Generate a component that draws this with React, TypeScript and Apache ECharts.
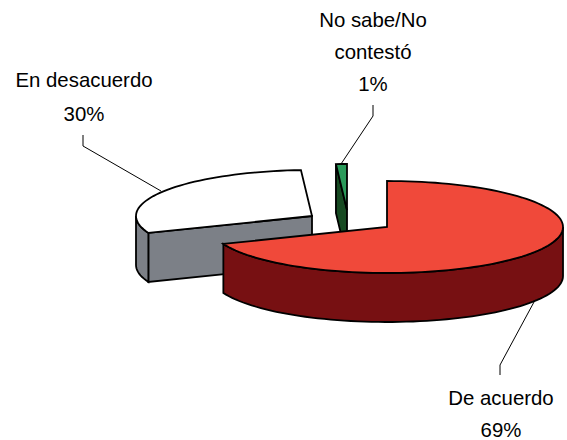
import React, { useEffect, useRef } from "react";
import * as echarts from "echarts";

// Data, clockwise from 12 o'clock
const categories = ["De acuerdo", "En desacuerdo", "No sabe/No contestó"];
const values = [69, 30, 1];
const labelLines = [["De acuerdo"], ["En desacuerdo"], ["No sabe/No", "contestó"]];

// Layout and style
const centers = [[387, 227], [312, 216], [347, 210]];
const RX = 176, RY = 46, DEPTH = 49;
const topColors = ["#F0493A", "#FFFFFF", "#2A9A5A"];
const sideColors = ["#771012", "#7C8087", "#174A22"];
const drawOrder = [3, 1, 2];
const labelX = [501, 84, 373];
const labelFirstBaseline = [405, 87, 27];
const LINE_GAP = [32, 34, 32];
const leaders = [
  [[500, 375], [500, 365], [534, 302]],
  [[83, 135], [83, 146], [161, 191]],
  [[373, 105], [373, 116], [341, 164]],
];
const FONT = "'Liberation Sans', Arial, sans-serif";

const total = values.reduce((a, b) => a + b, 0);
const startAngle = (i: number) => (values.slice(0, i).reduce((a, b) => a + b, 0) / total) * Math.PI * 2;

function arc(c: number[], a0: number, a1: number, dy = 0) {
  const n = Math.max(2, Math.ceil(Math.abs(a1 - a0) / 0.04));
  const pts: number[][] = [];
  for (let k = 0; k <= n; k++) {
    const a = a0 + ((a1 - a0) * k) / n;
    pts.push([c[0] + RX * Math.sin(a), c[1] - RY * Math.cos(a) + dy]);
  }
  return pts;
}

const edge = { stroke: "#000", lineWidth: 1.8, lineJoin: "miter" as const };

function renderItem(params: any, api: any) {
  const i = params.dataIndex;
  const a0 = startAngle(i);
  const a1 = a0 + (api.value(0) / total) * Math.PI * 2;
  const c = centers[i];
  const z = drawOrder[i] * 10;
  const children: any[] = [];

  // start cut face
  if (Math.sin(a0) < -0.001) {
    const p = arc(c, a0, a0)[0];
    children.push({
      type: "polygon", z2: z,
      shape: { points: [c, p, [p[0], p[1] + DEPTH], [c[0], c[1] + DEPTH]] },
      style: { fill: sideColors[i], ...edge },
    });
  }
  // front wall
  const w0 = Math.max(a0, Math.PI / 2), w1 = Math.min(a1, (3 * Math.PI) / 2);
  if (w1 > w0) {
    const upper = arc(c, w0, w1);
    const lower = arc(c, w1, w0, DEPTH);
    children.push({
      type: "polygon", z2: z + 1,
      shape: { points: [...upper, ...lower] },
      style: { fill: sideColors[i], ...edge },
    });
  }
  // top face
  children.push({
    type: "polygon", z2: z + 2,
    shape: { points: [c, ...arc(c, a0, a1)] },
    style: { fill: topColors[i], ...edge },
  });
  // leader
  children.push({
    type: "polyline", z2: 50,
    shape: { points: leaders[i] },
    style: { fill: "none", stroke: "#000", lineWidth: 1 },
  });
  // label
  [...labelLines[i], `${api.value(0)}%`].forEach((t, k) => {
    children.push({
      type: "text", z2: 60,
      x: labelX[i],
      y: labelFirstBaseline[i] + k * LINE_GAP[i] - 7,
      style: { text: t, fontSize: 20.4, fontFamily: FONT, fill: "#000", align: "center", verticalAlign: "middle" },
    });
  });
  return { type: "group", children };
}

export default function App() {
  const ref = useRef<HTMLDivElement>(null);
  useEffect(() => {
    const chart = echarts.init(ref.current!, undefined, { renderer: "svg" });
    chart.setOption({
      animation: false,
      backgroundColor: "#fff",
      series: [{
        type: "custom",
        coordinateSystem: "none",
        renderItem,
        clip: false,
        data: categories.map((name, i) => ({ name, value: [values[i]] })),
      }],
    });
    return () => chart.dispose();
  }, []);
  return <div ref={ref} style={{ position: "fixed", left: 0, top: 0, width: 567, height: 440 }} />;
}
